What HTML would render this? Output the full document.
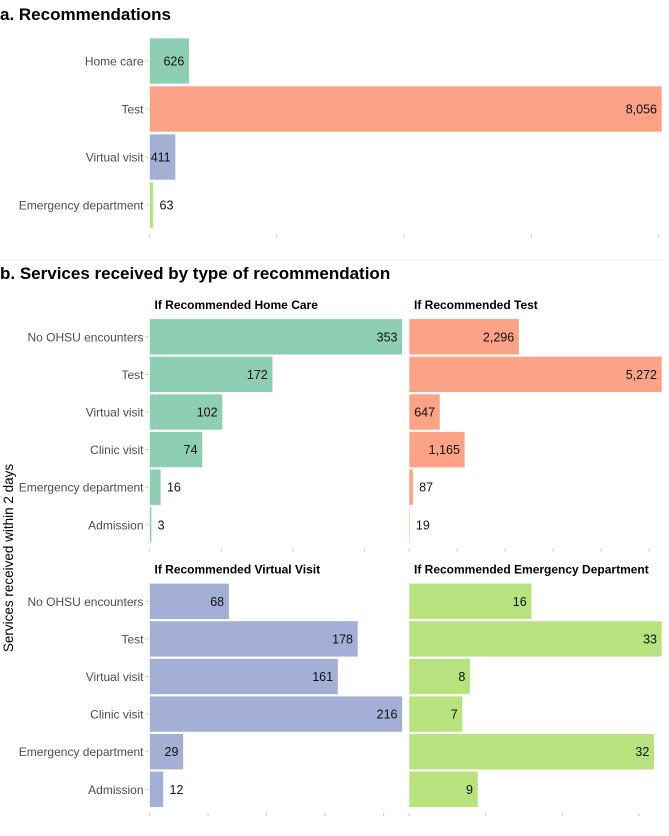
<!DOCTYPE html>
<html><head><meta charset="utf-8">
<style>
body{margin:0;background:#fff;}
svg{display:block;font-family:"Liberation Sans",Arial,sans-serif;}
</style></head>
<body>
<svg id="chart" width="669" height="836" viewBox="0 0 669 836" xmlns="http://www.w3.org/2000/svg">
<rect x="0" y="0" width="669" height="836" fill="#fff"/>
<text x="0" y="20" font-size="17" font-weight="bold" fill="#000">a. Recommendations</text>
<line x1="0" y1="260" x2="669" y2="260" stroke="#f2f2f2" stroke-width="1"/>
<text x="0" y="279" font-size="17" font-weight="bold" fill="#000">b. Services received by type of recommendation</text>
<text transform="translate(13,558) rotate(-90)" text-anchor="middle" font-size="13.5" fill="#000">Services received within 2 days</text>
<g id="plots"></g>
</svg>
<script>
const recCategories = ["Home care","Test","Virtual visit","Emergency department"];
const recValues = [626, 8056, 411, 63];
const recTicks = [0, 2000, 4000, 6000, 8000];

const svcCategories = ["No OHSU encounters","Test","Virtual visit","Clinic visit","Emergency department","Admission"];
const facetTitles = ["If Recommended Home Care","If Recommended Test","If Recommended Virtual Visit","If Recommended Emergency Department"];
const homeCareValues = [353, 172, 102, 74, 16, 3];
const testValues = [2296, 5272, 647, 1165, 87, 19];
const virtualVisitValues = [68, 178, 161, 216, 29, 12];
const edValues = [16, 33, 8, 7, 32, 9];
const facetTicks = [[0,100,200,300],[0,1000,2000,3000,4000,5000],[0,50,100,150,200],[0,10,20,30]];

const colors = ["#8ecfb4","#fba287","#a3afd5","#b7e27d"];
const NS = "http://www.w3.org/2000/svg";
const root = document.getElementById("plots");
function mk(tag, attrs, parent){const e=document.createElementNS(NS,tag);for(const k in attrs)e.setAttribute(k,attrs[k]);(parent||root).appendChild(e);return e;}
function fmt(v){return v.toLocaleString("en-US");}
function tw(s){let w=0;for(const c of s)w+=(c===","?3.5:6.95);return w;}

function drawPanel(opts){
  const {x0,width,top,rowH,barH,cats,vals,ticks,cols,max,showLabels,tickY,name}=opts;
  const g=mk("g",{});
  
  
  const sx=v=>x0+v/max*width;
  cats.forEach((c,i)=>{
    const cy=top+i*rowH+rowH/2;
    const w=sx(vals[i])-x0;
    const r=mk("rect",{x:x0,y:cy-barH/2,width:Math.max(w,1),height:barH,fill:cols[i],stroke:"#fff","stroke-width":"0.6"},g);
    
    
    const label=fmt(vals[i]);
    const inside=w>tw(label)+4;
    const t=mk("text",{x:inside?x0+w-5:x0+w+6,y:cy+4.5,"font-size":"12.5","text-anchor":inside?"end":"start",fill:"#111"},g);
    t.textContent=label;
    
    
    if(showLabels){
      mk("line",{x1:x0-4,x2:x0-1,y1:cy,y2:cy,stroke:"#bbb","stroke-width":"0.8"},g);
      const l=mk("text",{x:x0-6,y:cy+4.5,"font-size":"12","text-anchor":"end",fill:"#4d4d4d"},g);
      l.textContent=c;
      
      
    }
  });
  ticks.forEach(tk=>{
    const x=sx(tk);
    const m=mk("line",{x1:x,x2:x,y1:tickY,y2:tickY+3,stroke:"#bbb","stroke-width":"0.8"},g);
    
    
  });
}

drawPanel({x0:149.5,width:512.5,top:37,rowH:48,barH:46,cats:recCategories,vals:recValues,ticks:recTicks,cols:colors,max:Math.max(...recValues),showLabels:true,tickY:234,name:"panel-a"});

const facetVals=[homeCareValues,testValues,virtualVisitValues,edValues];
facetVals.forEach((vals,k)=>{
  const col=k%2,row=Math.floor(k/2);
  const x0=col===0?149.5:409;
  const top=row===0?318:582.5;
  const t=mk("text",{x:x0+5,y:top-9,"font-size":"12","font-weight":"bold",fill:"#000"});
  t.textContent=facetTitles[k];
  
  
  drawPanel({x0:x0,width:253,top:top,rowH:37.6,barH:36,cats:svcCategories,vals:vals,ticks:facetTicks[k],cols:vals.map(()=>colors[k]),max:Math.max(...vals),showLabels:col===0,tickY:top+6*37.6+5,name:"facet-"+k});
});
</script>
</body></html>
